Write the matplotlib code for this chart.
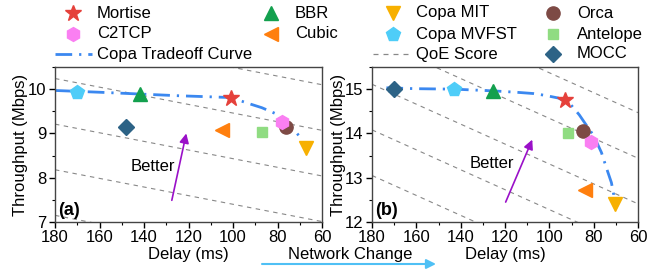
import matplotlib
matplotlib.use("Agg")
import matplotlib.pyplot as plt
from matplotlib.lines import Line2D
from matplotlib.ticker import MultipleLocator

plt.rcParams['font.family'] = ['Liberation Sans', 'DejaVu Sans']
plt.rcParams['font.size'] = 12

# ---------------- data ----------------
schemes = ["Mortise", "BBR", "Copa MIT", "Orca", "C2TCP", "Cubic",
           "Copa MVFST", "Antelope", "MOCC"]
markers = ["*", "^", "v", "o", "h", "<", "p", "s", "D"]
msizes = [12, 10, 10, 9.5, 10, 10, 10.5, 7.5, 8]
colors = ["#e5413b", "#13a04e", "#f7b000", "#7d4a45", "#fa7ff2", "#ff7f0e",
          "#4ecdf8", "#90dc82", "#2d6386"]

# panel (a)
delay_a = [101, 142, 67, 76, 78, 105, 170, 87, 148]
thr_a = [9.80, 9.90, 8.68, 9.15, 9.26, 9.08, 9.93, 9.03, 9.15]
curve_a_delay = [180, 170, 160, 142, 124, 112, 101, 92, 87, 81, 78, 73.5, 69.5]
curve_a_thr = [9.97, 9.95, 9.93, 9.89, 9.85, 9.83, 9.81, 9.66, 9.58, 9.45, 9.33, 9.13, 8.90]
qoe_a_at180 = [11.27, 10.24, 9.21, 8.18, 7.15]
qoe_a_at60 = [10.10, 9.07, 8.04, 7.01, 5.98]

# panel (b)
delay_b = [93, 125.5, 70.5, 85, 81, 84, 143, 91.5, 170]
thr_b = [14.76, 14.96, 12.41, 14.05, 13.81, 12.73, 15.00, 14.01, 15.00]
curve_b_delay = [173.5, 160, 143, 134, 125, 115, 107, 102, 96, 91, 86.5, 83.5, 80,
                 76.5, 74.3, 72, 71, 70.8]
curve_b_thr = [15.03, 15.01, 15.00, 14.98, 14.96, 14.93, 14.90, 14.86, 14.80, 14.69,
               14.42, 14.20, 13.95, 13.57, 13.23, 12.89, 12.63, 12.50]
qoe_b_at180 = [17.17, 16.14, 15.11, 14.08, 13.05]
qoe_b_at60 = [14.47, 13.44, 12.41, 11.38, 10.35]

xticks = [180, 160, 140, 120, 100, 80, 60]

curve_color = "#3b88f0"
curve_style = (0, (6, 2.5, 0.8, 2.5))
purple = "#9a10c8"

W, H = 659, 270
fig = plt.figure(figsize=(W / 100, H / 100), dpi=100)

def px(x0, y0, x1, y1):
    return [x0 / W, 1 - y1 / H, (x1 - x0) / W, (y1 - y0) / H]

ax_a = fig.add_axes(px(55, 67, 322, 222))
ax_b = fig.add_axes(px(372, 67, 638, 222))

def draw(ax, dly, thr, cd, ct, q180, q60, ylim, yticks, label, better):
    for a, b in zip(q180, q60):
        ax.plot([180, 60], [a, b], ls=(0, (4, 4)), color="#888888", lw=0.8, zorder=1)
    ax.plot(cd, ct, ls=curve_style, color=curve_color, lw=2.0, zorder=2)
    for i in range(len(schemes)):
        ax.plot([dly[i]], [thr[i]], marker=markers[i], ms=msizes[i], color=colors[i],
                ls='none', zorder=3)
    ax.set_xlim(180, 60)
    ax.set_ylim(*ylim)
    ax.set_xticks(xticks)
    ax.set_yticks(yticks)
    ax.xaxis.set_minor_locator(MultipleLocator(10))
    ax.yaxis.set_minor_locator(MultipleLocator(0.5))
    ax.tick_params(which='major', direction='out', length=4, width=1, labelsize=12, pad=2)
    ax.tick_params(which='minor', direction='out', length=2.5, width=0.8)
    for s in ax.spines.values():
        s.set_color("#444444")
        s.set_linewidth(1.0)
    ax.set_xlabel("Delay (ms)", fontsize=12, labelpad=1)
    ax.set_ylabel("Throughput (Mbps)", fontsize=12, labelpad=2)
    ax.text(0.012, 0.02, label, transform=ax.transAxes, ha='left', va='bottom',
            fontsize=13, fontweight='bold')
    (tx, ty), (hx, hy), (bx, by) = better
    ax.annotate("", xy=(hx, hy), xytext=(tx, ty),
                arrowprops=dict(arrowstyle='-|>', color=purple, lw=1.2,
                                mutation_scale=14, shrinkA=0, shrinkB=0))
    ax.text(bx, by, "Better", ha='center', va='center', fontsize=12)

draw(ax_a, delay_a, thr_a, curve_a_delay, curve_a_thr, qoe_a_at180, qoe_a_at60,
     (7, 10.5), [7, 8, 9, 10], "(a)", ((127.5, 7.49), (121, 9.0), (136, 8.25)))
draw(ax_b, delay_b, thr_b, curve_b_delay, curve_b_thr, qoe_b_at180, qoe_b_at60,
     (12, 15.5), [12, 13, 14, 15], "(b)", ((119.7, 12.45), (107.7, 13.86), (126, 13.33)))

ax_a.yaxis.set_label_coords(-0.10, 0.5)
ax_b.yaxis.set_label_coords(-0.098, 0.5)

# ---------------- legend (manual layout) ----------------
def fx(x):
    return x / W

def fy(y):
    return 1 - y / H

rows = [13, 34, 54]
legend_pos = {
    "Mortise": (73, 97, rows[0]), "C2TCP": (73, 97, rows[1]),
    "BBR": (271, 295, rows[0]), "Cubic": (271, 295, rows[1]),
    "Copa MIT": (393, 416, rows[0]), "Copa MVFST": (393, 416, rows[1]),
    "Orca": (553, 577, rows[0]), "Antelope": (553, 577, rows[1]), "MOCC": (553, 577, rows[2]),
}
for i, name in enumerate(schemes):
    mx, tx, y = legend_pos[name]
    fig.add_artist(Line2D([fx(mx)], [fy(y)], marker=markers[i], ms=msizes[i],
                          color=colors[i], ls='none', transform=fig.transFigure))
    fig.text(fx(tx), fy(y), name, ha='left', va='center', fontsize=12)

fig.add_artist(Line2D([fx(55), fx(92)], [fy(rows[2]), fy(rows[2])], ls=curve_style,
                      color=curve_color, lw=2.0, transform=fig.transFigure))
fig.text(fx(97), fy(rows[2]), "Copa Tradeoff Curve", ha='left', va='center', fontsize=12)
fig.add_artist(Line2D([fx(373), fx(408)], [fy(rows[2]), fy(rows[2])], ls=(0, (4, 4)),
                      color="#888888", lw=0.9, transform=fig.transFigure))
fig.text(fx(416), fy(rows[2]), "QoE Score", ha='left', va='center', fontsize=12)

# ---------------- network change arrow ----------------
fig.text(fx(350), fy(255), "Network Change", ha='center', va='center', fontsize=12)
fig.add_artist(matplotlib.patches.FancyArrowPatch(
    (fx(262), fy(264)), (fx(436), fy(264)), transform=fig.transFigure,
    arrowstyle='-|>', color="#4fc0f5", lw=1.5, mutation_scale=14,
    shrinkA=0, shrinkB=0))

fig.savefig("out.png", dpi=100)
